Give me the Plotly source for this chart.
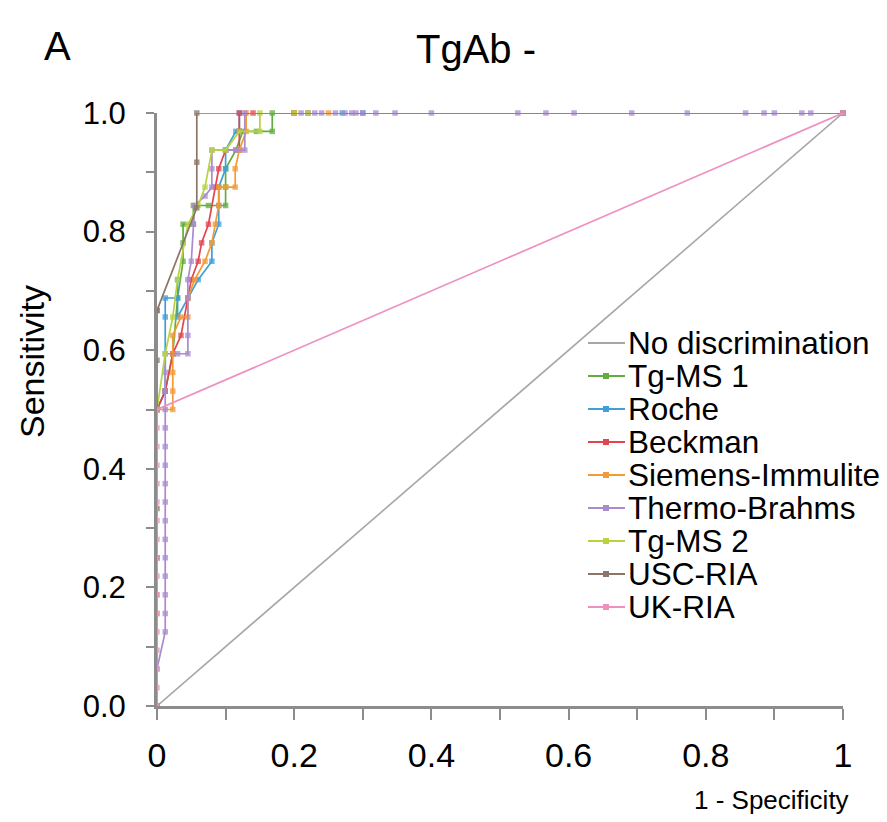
import plotly.graph_objects as go

# ---------------- data ----------------
series_names = ["No discrimination", "Tg-MS 1", "Roche", "Beckman", "Siemens-Immulite",
                "Thermo-Brahms", "Tg-MS 2", "USC-RIA", "UK-RIA"]
series_colors = ["#a6a6a6", "#62ad3e", "#3f9fd8", "#e2454f", "#f39a34",
                 "#a98bd0", "#b7d340", "#8a7566", "#ef90c2"]

nodisc_x = [0, 1]
nodisc_y = [0, 1]

tgms1_x = [0, 0, 0.012, 0.023, 0.03, 0.038, 0.038, 0.038, 0.053, 0.053, 0.075, 0.1, 0.1, 0.1, 0.115,
           0.125, 0.145, 0.168, 0.168, 0.2, 1]
tgms1_y = [0, 0.5, 0.531, 0.594, 0.688, 0.75, 0.781, 0.8125, 0.8125, 0.844, 0.844, 0.844, 0.875, 0.906, 0.9375,
           0.969, 0.969, 0.969, 1, 1, 1]

roche_x = [0, 0, 0.012, 0.012, 0.012, 0.03, 0.03, 0.03, 0.06, 0.08, 0.08, 0.09, 0.09, 0.09, 0.1, 0.1,
           0.115, 0.12, 0.12, 0.2, 0.27, 0.3, 1]
roche_y = [0, 0.5, 0.531, 0.656, 0.688, 0.688, 0.719, 0.656, 0.719, 0.75, 0.781, 0.8125, 0.844, 0.875, 0.906, 0.9375,
           0.969, 0.969, 1, 1, 1, 1, 1]

beckman_x = [0, 0, 0.012, 0.023, 0.035, 0.045, 0.05, 0.06, 0.065, 0.075, 0.085, 0.09, 0.1, 0.12,
             0.12, 0.12, 0.14, 0.2, 1]
beckman_y = [0, 0.5, 0.531, 0.594, 0.625, 0.688, 0.719, 0.75, 0.781, 0.8125, 0.875, 0.906, 0.9375, 0.9375,
             0.969, 1, 1, 1, 1]

siemens_x = [0, 0, 0, 0, 0, 0.023, 0.023, 0.023, 0.023, 0.023, 0.035, 0.045, 0.045, 0.055, 0.07, 0.08,
             0.085, 0.09, 0.09, 0.1, 0.114, 0.114, 0.12, 0.13, 0.13, 0.2, 0.22, 0.25, 1]
siemens_y = [0, 0.156, 0.1875, 0.25, 0.5, 0.5, 0.531, 0.5625, 0.594, 0.625, 0.656, 0.656, 0.688, 0.719, 0.75,
             0.781, 0.8125, 0.844, 0.875, 0.875, 0.875, 0.906, 0.9375, 0.969, 1, 1, 1, 1, 1]

thermo_x = [0, 0, 0.012, 0.012, 0.012, 0.012, 0.012, 0.012, 0.012, 0.012, 0.012, 0.012, 0.012, 0.012,
            0.012, 0.012, 0.012, 0.012, 0.03, 0.045, 0.045, 0.045, 0.045, 0.05, 0.053, 0.055, 0.07, 0.08,
            0.08, 0.08, 0.1, 0.115, 0.128, 0.128, 0.21, 0.22, 0.23, 0.24, 0.26, 0.274, 0.284, 0.29, 0.3,
            0.319, 0.347, 0.4, 0.526, 0.567, 0.608, 0.692, 0.773, 0.858, 0.885, 0.9, 0.94, 0.953, 1]
thermo_y = [0, 0.0625, 0.125, 0.156, 0.1875, 0.219, 0.25, 0.281, 0.3125, 0.344, 0.375, 0.406, 0.4375,
            0.469, 0.5, 0.531, 0.5625, 0.594, 0.594, 0.594, 0.625, 0.688, 0.719, 0.75, 0.8125, 0.844, 0.86,
            0.875, 0.906, 0.9375, 0.9375, 0.9375, 0.9375, 1, 1, 1, 1, 1, 1, 1, 1, 1, 1,
            1, 1, 1, 1, 1, 1, 1, 1, 1, 1, 1, 1, 1, 1]

tgms2_x = [0, 0, 0.012, 0.023, 0.03, 0.045, 0.06, 0.07, 0.08, 0.1, 0.12, 0.15, 0.15, 0.2, 0.22, 1]
tgms2_y = [0, 0.5, 0.594, 0.656, 0.719, 0.8125, 0.844, 0.875, 0.9375, 0.9375, 0.969, 0.969, 1, 1, 1, 1]

usc_x = [0, 0, 0, 0, 0, 0, 0, 0.058, 0.058, 0.058, 1]
usc_y = [0, 0.25, 0.333, 0.5, 0.583, 0.667, 0.667, 0.84, 0.917, 1, 1]

ukria_x = [0, 0, 0, 0, 0, 0, 0, 0, 0, 0, 0, 0, 0, 0, 0, 0, 0, 1]
ukria_y = [0, 0.031, 0.0625, 0.094, 0.125, 0.156, 0.1875, 0.219, 0.25, 0.281, 0.3125, 0.344, 0.375,
           0.406, 0.4375, 0.469, 0.5, 1]

x_tickvals = [0, 0.1, 0.2, 0.3, 0.4, 0.5, 0.6, 0.7, 0.8, 0.9, 1.0]
x_ticktext = ["0", "", "0.2", "", "0.4", "", "0.6", "", "0.8", "", "1"]
y_tickvals = [0, 0.1, 0.2, 0.3, 0.4, 0.5, 0.6, 0.7, 0.8, 0.9, 1.0]
y_ticktext = ["0.0", "", "0.2", "", "0.4", "", "0.6", "", "0.8", "", "1.0"]

curves = [(tgms1_x, tgms1_y), (roche_x, roche_y), (beckman_x, beckman_y), (siemens_x, siemens_y),
          (thermo_x, thermo_y), (tgms2_x, tgms2_y), (usc_x, usc_y), (ukria_x, ukria_y)]

# ---------------- figure ----------------
W, H = 887, 822
L, R, T, B = 157, 44, 113, 116
PW, PH = W - L - R, H - T - B

def px(xp):
    return (xp - L) / PW

def py(yp):
    return (H - B - yp) / PH

fig = go.Figure()
fig.add_trace(go.Scatter(x=nodisc_x, y=nodisc_y, mode="lines",
                         line=dict(color=series_colors[0], width=1.6),
                         showlegend=False, cliponaxis=False))
for i, (cx, cy) in enumerate(curves):
    col = series_colors[i + 1]
    fig.add_trace(go.Scatter(x=cx, y=cy, mode="lines+markers",
                             line=dict(color=col, width=1.7),
                             marker=dict(symbol="square", size=5.5, color=col, opacity=0.75,
                                         line=dict(width=0)),
                             showlegend=False, cliponaxis=False))

SANS = "Liberation Sans, Arial, sans-serif"
axis_col = "#8c8c8c"

fig.update_layout(
    width=W, height=H,
    margin=dict(l=L, r=R, t=T, b=B, pad=0),
    paper_bgcolor="white", plot_bgcolor="white",
    showlegend=False,
    xaxis=dict(range=[0, 1], showgrid=False, zeroline=False, showline=True,
               linecolor=axis_col, linewidth=3, ticks="outside", ticklen=11, tickwidth=2,
               tickcolor=axis_col, tickvals=x_tickvals, ticktext=x_ticktext,
               ticklabelstandoff=6,
               tickfont=dict(family=SANS, size=34, color="black")),
    yaxis=dict(range=[0, 1], showgrid=False, zeroline=False, showline=True,
               linecolor=axis_col, linewidth=3, ticks="outside", ticklen=8, tickwidth=2,
               tickcolor=axis_col, tickvals=y_tickvals, ticktext=y_ticktext,
               ticklabelstandoff=14,
               tickfont=dict(family=SANS, size=31, color="black")),
)

annotations = [
    dict(text="A", x=px(58), y=py(46), xref="paper", yref="paper", showarrow=False,
         xanchor="center", yanchor="middle",
         font=dict(family=SANS, size=40, color="black")),
    dict(text="TgAb -", x=px(476), y=py(49), xref="paper", yref="paper", showarrow=False,
         xanchor="center", yanchor="middle",
         font=dict(family=SANS, size=40, color="black")),
    dict(text="Sensitivity", x=px(32), y=py(362), xref="paper", yref="paper", showarrow=False,
         xanchor="center", yanchor="middle",
         textangle=-90, font=dict(family=SANS, size=34, color="black")),
    dict(text="1 - Specificity", x=px(851), y=py(800), xref="paper", yref="paper", showarrow=False,
         xanchor="right", yanchor="middle", font=dict(family=SANS, size=26, color="black")),
]

shapes = []
row0, gap = 343, 33.0
for i, name in enumerate(series_names):
    yc = row0 + gap * i
    col = series_colors[i]
    shapes.append(dict(type="line", xref="paper", yref="paper", x0=px(588), x1=px(625),
                       y0=py(yc), y1=py(yc), line=dict(color=col, width=1.8)))
    if i > 0:
        shapes.append(dict(type="rect", xref="paper", yref="paper", x0=px(603), x1=px(609),
                           y0=py(yc + 3), y1=py(yc - 3), line=dict(width=0), fillcolor=col))
    annotations.append(dict(text=name, x=px(626), y=py(yc), xref="paper", yref="paper",
                            showarrow=False, xanchor="left", yanchor="middle",
                            font=dict(family=SANS, size=31.5, color="black")))

fig.update_layout(annotations=annotations, shapes=shapes)
fig.write_html("out.html")
